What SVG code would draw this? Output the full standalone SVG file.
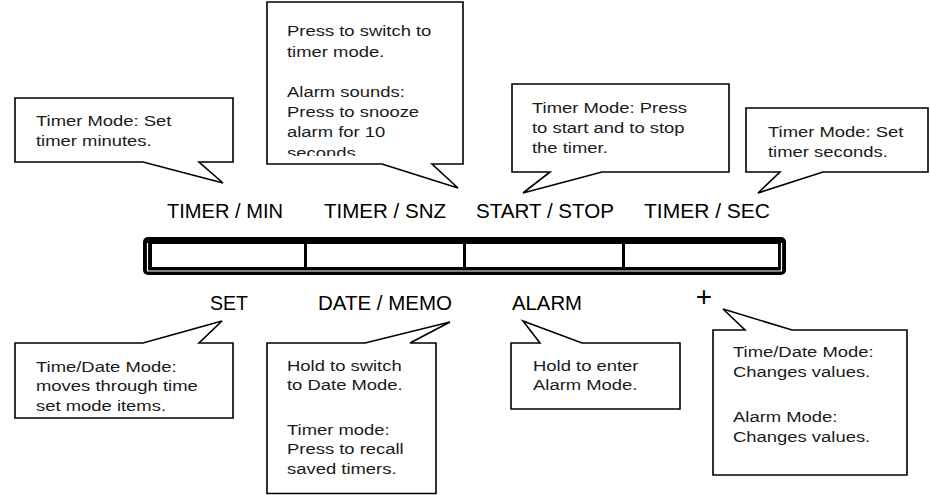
<svg xmlns="http://www.w3.org/2000/svg" width="930" height="495" viewBox="0 0 930 495">
<defs>
<style>
.co{fill:#fff;stroke:#000;stroke-width:1.6;stroke-linejoin:miter}
.ct{font-family:"Liberation Sans",Arial,sans-serif;font-size:15.5px;fill:#1a1a1a}
.lb{font-family:"Liberation Sans",Arial,sans-serif;font-size:21px;fill:#000;text-anchor:middle}
</style>
<clipPath id="clip2"><rect x="267" y="2" width="196" height="154"/></clipPath>
</defs>
<rect width="930" height="495" fill="#fff"/>

<g id="button-bar">
<rect x="143" y="237" width="643" height="38" rx="5" fill="#000"/>
<path d="M147.5,243 V271 H781.5 V243" fill="none" stroke="#fff" stroke-width="1.2"/>
<rect x="152" y="244" width="626" height="23" fill="#fff"/>
<rect x="304" y="244" width="3" height="23" fill="#000"/>
<rect x="463" y="244" width="3" height="23" fill="#000"/>
<rect x="622" y="244" width="3" height="23" fill="#000"/>
</g>

<g id="labels">
<text class="lb" x="225" y="218" textLength="116" lengthAdjust="spacingAndGlyphs">TIMER / MIN</text>
<text class="lb" x="385" y="218" textLength="122" lengthAdjust="spacingAndGlyphs">TIMER / SNZ</text>
<text class="lb" x="545" y="218" textLength="138" lengthAdjust="spacingAndGlyphs">START / STOP</text>
<text class="lb" x="707" y="218" textLength="126" lengthAdjust="spacingAndGlyphs">TIMER / SEC</text>
<text class="lb" x="229" y="310" textLength="38" lengthAdjust="spacingAndGlyphs">SET</text>
<text class="lb" x="385" y="310" textLength="134" lengthAdjust="spacingAndGlyphs">DATE / MEMO</text>
<text class="lb" x="547" y="310" textLength="70" lengthAdjust="spacingAndGlyphs">ALARM</text>
<text class="lb" x="704" y="306" style="font-size:28px">+</text>
</g>

<g id="connectors"></g>

<g id="callout-timer-min">
<path class="co" d="M15,98 H233 V162 H199 L223,183 L143,162 H15 Z"/>
<text class="ct" transform="matrix(1.19 0 0 1 36 126)"><tspan x="0" y="0">Timer Mode: Set</tspan><tspan x="0" y="20">timer minutes.</tspan></text>
</g>

<g id="callout-timer-snz">
<path class="co" d="M267,2 H463 V164 H432 L458,188 L382,164 H267 Z"/>
<g clip-path="url(#clip2)">
<text class="ct" transform="matrix(1.19 0 0 1 287 36)"><tspan x="0" y="0">Press to switch to</tspan><tspan x="0" y="21">timer mode.</tspan><tspan x="0" y="61">Alarm sounds:</tspan><tspan x="0" y="81">Press to snooze</tspan><tspan x="0" y="101">alarm for 10</tspan><tspan x="0" y="122">seconds.</tspan></text>
</g>
</g>

<g id="callout-start-stop">
<path class="co" d="M512,84 H729 V172 H602 L523,193 L550,172 H512 Z"/>
<text class="ct" transform="matrix(1.19 0 0 1 532 113)"><tspan x="0" y="0">Timer Mode: Press</tspan><tspan x="0" y="20">to start and to stop</tspan><tspan x="0" y="40">the timer.</tspan></text>
</g>

<g id="callout-timer-sec">
<path class="co" d="M746,108 H928 V172 H823 L758,193 L780,172 H746 Z"/>
<text class="ct" transform="matrix(1.19 0 0 1 768 137)"><tspan x="0" y="0">Timer Mode: Set</tspan><tspan x="0" y="20">timer seconds.</tspan></text>
</g>

<g id="callout-set">
<path class="co" d="M15,343 H143 L222,321 L199,343 H233 V418 H15 Z"/>
<text class="ct" transform="matrix(1.19 0 0 1 36 372)"><tspan x="0" y="0">Time/Date Mode:</tspan><tspan x="0" y="19.5">moves through time</tspan><tspan x="0" y="39">set mode items.</tspan></text>
</g>

<g id="callout-date-memo">
<path class="co" d="M267,343 H365 L450,322 L410,343 H436 V493.5 H267 Z"/>
<text class="ct" transform="matrix(1.19 0 0 1 287 371)"><tspan x="0" y="0">Hold to switch</tspan><tspan x="0" y="19.5">to Date Mode.</tspan><tspan x="0" y="64">Timer mode:</tspan><tspan x="0" y="83.5">Press to recall</tspan><tspan x="0" y="103">saved timers.</tspan></text>
</g>

<g id="callout-alarm">
<path class="co" d="M511,343 H540 L523,321 L582,343 H680 V409 H511 Z"/>
<text class="ct" transform="matrix(1.19 0 0 1 533 371)"><tspan x="0" y="0">Hold to enter</tspan><tspan x="0" y="19.5">Alarm Mode.</tspan></text>
</g>

<g id="callout-plus">
<path class="co" d="M713,330 H745 L723,309 L792,330 H907 V475 H713 Z"/>
<text class="ct" transform="matrix(1.19 0 0 1 733 357)"><tspan x="0" y="0">Time/Date Mode:</tspan><tspan x="0" y="20">Changes values.</tspan><tspan x="0" y="65">Alarm Mode:</tspan><tspan x="0" y="85">Changes values.</tspan></text>
</g>
</svg>
